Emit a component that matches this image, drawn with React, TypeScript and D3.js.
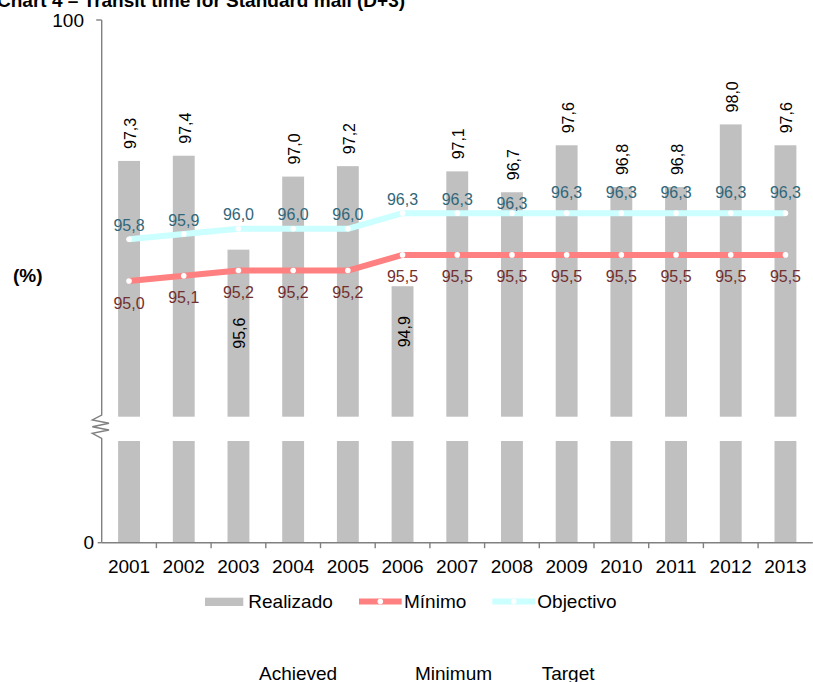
import React from "react";
import * as d3 from "d3";

// Years on the category axis
const years = ["2001", "2002", "2003", "2004", "2005", "2006", "2007", "2008", "2009", "2010", "2011", "2012", "2013"];
// Achieved share delivered within target (%)
const realizado = [97.3, 97.4, 95.6, 97.0, 97.2, 94.9, 97.1, 96.7, 97.6, 96.8, 96.8, 98.0, 97.6];
// Minimum required level (%)
const minimo = [95.0, 95.1, 95.2, 95.2, 95.2, 95.5, 95.5, 95.5, 95.5, 95.5, 95.5, 95.5, 95.5];
// Target level (%)
const objectivo = [95.8, 95.9, 96.0, 96.0, 96.0, 96.3, 96.3, 96.3, 96.3, 96.3, 96.3, 96.3, 96.3];
// Y axis tick labels
const yTickTop = 100;
const yTickBottom = 0;

// Legend text
const legendPt = ["Realizado", "Mínimo", "Objectivo"];
const legendEn = ["Achieved", "Minimum", "Target"];
const title = "Chart 4 – Transit time for Standard mail (D+3)";

// Per-point lift of the target labels above their markers (px)
const targetLabelLift = [13.5, 13.5, 14, 14, 14, 14, 14, 10, 20.5, 20.5, 20.5, 20.5, 20.5];

const W = 813;
const H = 682;
const FONT = "'Liberation Sans', Arial, Helvetica, sans-serif";

const axisX = 101.7;
const plotRight = 812.8;
const upperTop = 20;
const upperBottom = 416.7;
const lowerTop = 441;
const baseY = 542.7;

const BAR = "#c0c0c0";
const MIN_COL = "#ff8080";
const OBJ_COL = "#ccffff";
const MIN_TXT = "#722f2f";
const OBJ_TXT = "#31677a";
const AXIS = "#808080";

const fmt = (v: number) => d3.format(".1f")(v).replace(".", ",");

export default function App() {
  const x = d3.scaleBand<string>().domain(years).range([axisX, plotRight]).padding(0);
  const step = x.step();
  const barW = step * 0.4;
  const cx = (i: number) => (x(years[i]) as number) + step / 2;

  // Upper (broken) segment of the value axis
  const yUp = d3.scaleLinear().domain([92.4, yTickTop]).range([upperBottom, upperTop]);
  // Lower segment: from zero up to the break
  const yLow = d3.scaleLinear().domain([yTickBottom, 92.4]).range([baseY, lowerTop]);

  const line = d3
    .line<number>()
    .x((_, i) => cx(i))
    .y((d) => yUp(d));

  const zig = d3.line()([
    [axisX, upperTop],
    [axisX, 415],
    [92.3, 420],
    [109, 423.3],
    [92.3, 426.7],
    [109, 430],
    [92.3, 433.3],
    [axisX, 438.3],
    [axisX, baseY],
  ]) as string;

  return (
    <svg
      width={W}
      height={H}
      style={{ position: "absolute", left: 0, top: 0, background: "#fff" }}
      fontFamily={FONT}
    >
      <rect x={0} y={0} width={W} height={H} fill="#fff" />
      <text x={-3} y={6.5} fontSize={19} fontWeight="bold" fill="#000">
        {title}
      </text>

      {/* bars: lower segment and upper segment */}
      {realizado.map((v, i) => (
        <g key={"b" + i}>
          <rect x={cx(i) - barW / 2} y={yLow(92.4)} width={barW} height={baseY - yLow(92.4)} fill={BAR} />
          <rect x={cx(i) - barW / 2} y={yUp(v)} width={barW} height={upperBottom - yUp(v)} fill={BAR} />
        </g>
      ))}

      {/* axes */}
      <path d={zig} fill="none" stroke={AXIS} strokeWidth={1.4} />
      <line x1={axisX} x2={plotRight} y1={baseY} y2={baseY} stroke={AXIS} strokeWidth={1.4} />
      {years.map((yr, i) =>
        i === 0 ? null : (
          <line
            key={"t" + yr}
            x1={x(yr) as number}
            x2={x(yr) as number}
            y1={baseY}
            y2={baseY + 5.5}
            stroke={AXIS}
            strokeWidth={1.4}
          />
        )
      )}
      <line x1={axisX - 5.5} x2={axisX} y1={yUp(yTickTop)} y2={yUp(yTickTop)} stroke={AXIS} strokeWidth={1.4} />
      <line x1={axisX - 4} x2={axisX} y1={yLow(yTickBottom)} y2={yLow(yTickBottom)} stroke={AXIS} strokeWidth={1.4} />
      <text x={84} y={yUp(yTickTop)} dy="0.35em" textAnchor="end" fontSize={19}>
        {yTickTop}
      </text>
      <text x={94} y={yLow(yTickBottom)} dy="0.35em" textAnchor="end" fontSize={19}>
        {yTickBottom}
      </text>
      <text x={13} y={275} dy="0.35em" fontSize={19} fontWeight="bold">
        (%)
      </text>
      {years.map((yr, i) => (
        <text key={"yl" + yr} x={cx(i)} y={573} textAnchor="middle" fontSize={19}>
          {yr}
        </text>
      ))}

      {/* lines */}
      <path d={line(minimo) as string} fill="none" stroke={MIN_COL} strokeWidth={6} strokeLinejoin="round" />
      <path d={line(objectivo) as string} fill="none" stroke={OBJ_COL} strokeWidth={6} strokeLinejoin="round" />
      {minimo.map((v, i) => (
        <circle key={"mc" + i} cx={cx(i)} cy={yUp(v)} r={2.8} fill="#fff" />
      ))}
      {objectivo.map((v, i) => (
        <circle key={"oc" + i} cx={cx(i)} cy={yUp(v)} r={2.8} fill="#fff" />
      ))}

      {/* value labels */}
      {objectivo.map((v, i) => (
        <text
          key={"ol" + i}
          x={cx(i)}
          y={yUp(v) - targetLabelLift[i]}
          dy="0.35em"
          textAnchor="middle"
          fontSize={16}
          fill={OBJ_TXT}
        >
          {fmt(v)}
        </text>
      ))}
      {minimo.map((v, i) => (
        <text key={"ml" + i} x={cx(i)} y={yUp(v) + 22} dy="0.35em" textAnchor="middle" fontSize={16} fill={MIN_TXT}>
          {fmt(v)}
        </text>
      ))}
      {realizado.map((v, i) => {
        const top = yUp(v);
        // bars ending below the target line carry their label inside, under the minimum label
        const inside = v < objectivo[i];
        if (inside) {
          const end = Math.max(top + 30, yUp(minimo[i]) + 47);
          return (
            <text
              key={"rl" + i}
              transform={`translate(${cx(i) + 7},${end}) rotate(-90)`}
              textAnchor="end"
              fontSize={16}
              fill="#000"
            >
              {fmt(v)}
            </text>
          );
        }
        return (
          <text
            key={"rl" + i}
            transform={`translate(${cx(i) + 7},${top - 12}) rotate(-90)`}
            textAnchor="start"
            fontSize={16}
            fill="#000"
          >
            {fmt(v)}
          </text>
        );
      })}

      {/* legend */}
      <rect x={205} y={597.7} width={38.3} height={8.3} fill={BAR} />
      <text x={248.3} y={608} fontSize={19}>
        {legendPt[0]}
      </text>
      <line x1={359} x2={401.7} y1={601.5} y2={601.5} stroke={MIN_COL} strokeWidth={6} />
      <circle cx={380.3} cy={601.5} r={2.8} fill="#fff" />
      <text x={404} y={608} fontSize={19}>
        {legendPt[1]}
      </text>
      <line x1={492.3} x2={535} y1={601.5} y2={601.5} stroke={OBJ_COL} strokeWidth={6} />
      <circle cx={513.7} cy={601.5} r={2.8} fill="#fff" />
      <text x={537.3} y={608} fontSize={19}>
        {legendPt[2]}
      </text>

      <text x={259} y={679.5} fontSize={19}>
        {legendEn[0]}
      </text>
      <text x={415} y={679.5} fontSize={19}>
        {legendEn[1]}
      </text>
      <text x={541.7} y={679.5} fontSize={19}>
        {legendEn[2]}
      </text>
    </svg>
  );
}
